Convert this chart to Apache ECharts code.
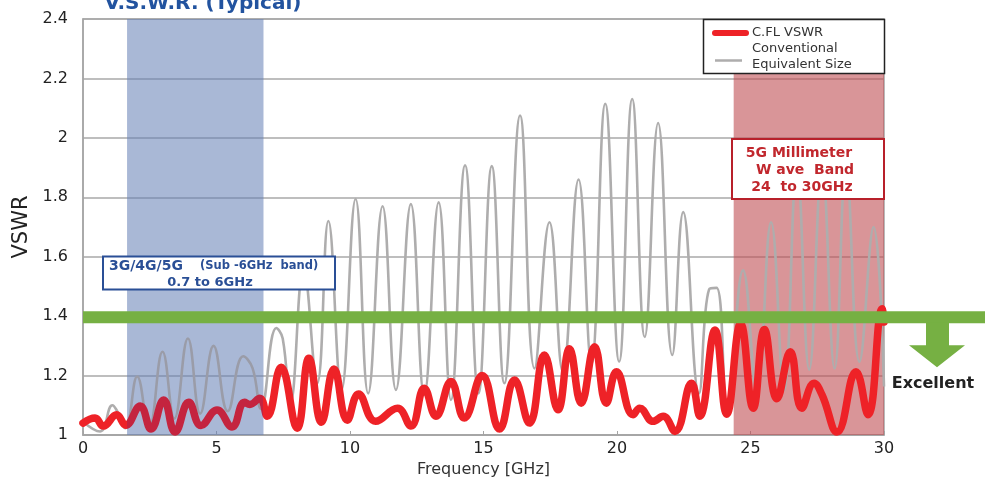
<!DOCTYPE html>
<html><head><meta charset="utf-8">
<script src="https://cdn.jsdelivr.net/npm/echarts@6/dist/echarts.min.js"></script>
<style>html,body{margin:0;padding:0;background:#fff}#c{width:992px;height:483px}</style>
</head><body><div id="c"></div>
<script>
// ---- data ----
const cflFreq = [0, 0.45, 0.76, 1.26, 1.6, 2.14, 2.55, 3.02, 3.45, 3.96, 4.42, 5.02, 5.58, 6.05, 6.25, 6.62, 6.9,
  7.42, 8.02, 8.46, 8.93, 9.4, 9.9, 10.32, 10.96, 11.78, 12.28, 12.78, 13.22, 13.78, 14.28, 14.95, 15.6,
  16.16, 16.72, 17.28, 17.79, 18.22, 18.66, 19.16, 19.6, 19.98, 20.6, 20.85, 21.35, 21.73, 22.17, 22.79, 23.1,
  23.67, 24.11, 24.63, 25.1, 25.52, 25.99, 26.49, 26.92, 27.38, 27.68, 28.24, 28.95, 29.4, 29.93, 30];
const cflVswr = [1.04, 1.057, 1.03, 1.068, 1.033, 1.098, 1.02, 1.118, 1.01, 1.11, 1.032, 1.084, 1.027, 1.11, 1.103, 1.124, 1.063,
  1.228, 1.023, 1.258, 1.043, 1.222, 1.05, 1.138, 1.046, 1.09, 1.03, 1.157, 1.063, 1.18, 1.057, 1.2, 1.02,
  1.185, 1.04, 1.269, 1.085, 1.29, 1.107, 1.297, 1.107, 1.213, 1.068, 1.09, 1.046, 1.063, 1.012, 1.174, 1.063,
  1.353, 1.07, 1.375, 1.09, 1.355, 1.122, 1.28, 1.09, 1.174, 1.135, 1.01, 1.213, 1.068, 1.425, 1.38];

const convFreq = [0, 0.64, 1.1, 1.25, 1.58, 2.03, 2.47, 2.98, 3.42, 3.93, 4.39, 4.89, 5.42, 6.0, 6.35, 6.66,
  7.24, 7.48, 7.76, 8.26, 8.77, 9.19, 9.68, 10.21, 10.68, 11.22, 11.72, 12.28, 12.78, 13.32, 13.78, 14.31, 14.81,
  15.31, 15.78, 16.37, 16.91, 17.47, 17.97, 18.56, 19.04, 19.56, 20.08, 20.57, 21.04, 21.54, 22.07, 22.48, 23.07,
  23.45, 23.73, 24.13, 24.72, 25.24, 25.77, 26.26, 26.74, 27.2, 27.68, 28.15, 28.58, 29.08, 29.61, 30];
const convVswr = [1.045, 1.012, 1.10, 1.085, 1.023, 1.197, 1.02, 1.28, 1.055, 1.325, 1.072, 1.30, 1.08, 1.265, 1.225, 1.088,
  1.36, 1.325, 1.105, 1.56, 1.174, 1.72, 1.152, 1.794, 1.14, 1.77, 1.152, 1.777, 1.135, 1.783, 1.118, 1.908, 1.14,
  1.905, 1.174, 2.075, 1.224, 1.716, 1.213, 1.86, 1.24, 2.115, 1.247, 2.131, 1.33, 2.05, 1.269, 1.75, 1.14,
  1.49, 1.495, 1.082, 1.554, 1.14, 1.716, 1.15, 1.9, 1.22, 1.9, 1.224, 1.9, 1.247, 1.70, 1.163];

const xTicks = [0, 5, 10, 15, 20, 25, 30];
const yTicks = [1, 1.2, 1.4, 1.6, 1.8, 2, 2.2, 2.4];
const subBand = [1.65, 6.76];      // drawn blue band (GHz)
const mmBand = [24.37, 30];        // drawn red band (GHz)
const excellentLimit = 1.4;

const seriesNames = ['C.FL VSWR', 'Conventional\nEquivalent Size'];
const titleText = 'V.S.W.R. (Typical)';

// ---- build ----
const zip = (a, b) => a.map((v, i) => [v, b[i]]);
const FONT = '"DejaVu Sans", Verdana, sans-serif';
const chart = echarts.init(document.getElementById('c'), null, {renderer: 'canvas'});

const RED = '#ee2227', RED_IN = '#c4243f', GRAY = '#aeadad', GRAY_IN = '#9a9ca8';
const bandColors = ['rgba(99,126,180,0.55)', 'rgba(192,78,83,0.6)'];
const yMin = yTicks[0], yMax = yTicks[yTicks.length - 1];

chart.setOption({
  animation: false,
  backgroundColor: '#fff',
  textStyle: {fontFamily: FONT},
  grid: {left: 83, right: 108, top: 19, bottom: 46, show: true, borderColor: '#a4a4a4', borderWidth: 1.5, containLabel: false},
  xAxis: {
    type: 'value', min: xTicks[0], max: xTicks[xTicks.length - 1], interval: 5,
    name: 'Frequency [GHz]', nameLocation: 'middle', nameGap: 27,
    nameTextStyle: {fontSize: 16, color: '#333', fontFamily: FONT},
    axisLine: {show: true, lineStyle: {color: '#a4a4a4', width: 1.5}},
    axisTick: {show: true, inside: true, length: 4, lineStyle: {color: '#a4a4a4'}},
    axisLabel: {fontSize: 16, color: '#222', margin: 6, fontFamily: FONT},
    splitLine: {show: false}
  },
  yAxis: {
    type: 'value', min: yMin, max: yMax, interval: 0.2,
    name: 'VSWR', nameLocation: 'middle', nameGap: 50, nameRotate: 90,
    nameTextStyle: {fontSize: 21, color: '#222', fontFamily: FONT},
    axisLine: {show: true, lineStyle: {color: '#a4a4a4', width: 1.5}},
    axisTick: {show: false},
    axisLabel: {fontSize: 16, color: '#222', margin: 15, fontFamily: FONT,
      formatter: v => String(Math.round(v * 10) / 10)},
    splitLine: {show: true, lineStyle: {color: '#a8a8a8', width: 1.5}}
  },
  visualMap: [
    {type: 'piecewise', show: false, dimension: 0, seriesIndex: 1,
      pieces: [{lt: subBand[0], color: RED}, {gte: subBand[0], lte: subBand[1], color: RED_IN}, {gt: subBand[1], color: RED}]},
    {type: 'piecewise', show: false, dimension: 0, seriesIndex: 2,
      pieces: [{lt: subBand[0], color: GRAY}, {gte: subBand[0], lte: subBand[1], color: GRAY_IN}, {gt: subBand[1], color: GRAY}]}
  ],
  series: [
    {type: 'custom', name: 'bands', z: 1, silent: true,
      encode: {x: [0, 1]},
      data: [[subBand[0], subBand[1], 0], [mmBand[0], mmBand[1], 1]],
      renderItem: (params, api) => {
        const a = api.coord([api.value(0), yMax]);
        const b = api.coord([api.value(1), yMin]);
        return {type: 'rect', shape: {x: a[0], y: a[1], width: b[0] - a[0], height: b[1] - a[1]},
          style: {fill: bandColors[api.value(2)]}};
      }},
    {type: 'line', name: seriesNames[0], data: zip(cflFreq, cflVswr), smooth: 0.45, showSymbol: false, z: 11,
      lineStyle: {width: 7.5, cap: 'round', join: 'round'}},
    {type: 'line', name: seriesNames[1], data: zip(convFreq, convVswr), smooth: 0.45, showSymbol: false, z: 10,
      lineStyle: {width: 2.6, join: 'round'}}
  ]
});

// ---- annotations (positions derived from the axes where they encode data) ----
const p0 = chart.convertToPixel({xAxisIndex: 0, yAxisIndex: 0}, [xTicks[0], excellentLimit]);
const gy = p0[1] + 1;
const ax = 937; // arrow centre
chart.setOption({graphic: [
  // title (cut at top like reference)
  {type: 'text', x: 203, y: 14, z: 100, style: {text: titleText, font: 'bold 20px ' + FONT, fill: '#22539f', align: 'center', verticalAlign: 'bottom'}},
  // threshold bar
  {type: 'line', z: 90, shape: {x1: p0[0], y1: gy, x2: 985, y2: gy}, style: {stroke: '#76b043', lineWidth: 12}},
  {type: 'polygon', z: 90, shape: {points: [[ax - 11, gy + 5], [ax + 12, gy + 5], [ax + 12, gy + 28], [ax + 28, gy + 28], [ax, gy + 50], [ax - 28, gy + 28], [ax - 11, gy + 28]]}, style: {fill: '#76b043'}},
  {type: 'text', x: 933, y: 384, z: 90, style: {text: 'Excellent', font: 'bold 16px ' + FONT, fill: '#222', align: 'center', verticalAlign: 'middle'}},
  // legend
  {type: 'rect', z: 95, shape: {x: 703.5, y: 19.5, width: 181, height: 54}, style: {fill: '#fff', stroke: '#222', lineWidth: 1.5}},
  {type: 'line', z: 96, shape: {x1: 715, y1: 33, x2: 746, y2: 33}, style: {stroke: RED, lineWidth: 6, lineCap: 'round'}},
  {type: 'text', x: 752, y: 33, z: 96, style: {text: seriesNames[0], font: '13px ' + FONT, fill: '#333', verticalAlign: 'middle'}},
  {type: 'line', z: 96, shape: {x1: 715, y1: 60.5, x2: 742, y2: 60.5}, style: {stroke: GRAY, lineWidth: 2.5}},
  {type: 'text', x: 752, y: 49, z: 96, style: {text: 'Conventional', font: '13px ' + FONT, fill: '#333', verticalAlign: 'middle'}},
  {type: 'text', x: 752, y: 64.5, z: 96, style: {text: 'Equivalent Size', font: '13px ' + FONT, fill: '#333', verticalAlign: 'middle'}},
  // mmWave box
  {type: 'rect', z: 95, shape: {x: 732, y: 139, width: 152, height: 60}, style: {fill: '#fff', stroke: '#b8202a', lineWidth: 2}},
  {type: 'text', x: 799, y: 153.5, z: 96, style: {text: '5G Millimeter', font: 'bold 14px ' + FONT, fill: '#c1272d', align: 'center', verticalAlign: 'middle'}},
  {type: 'text', x: 805, y: 170.5, z: 96, style: {text: 'W ave  Band', font: 'bold 14px ' + FONT, fill: '#c1272d', align: 'center', verticalAlign: 'middle'}},
  {type: 'text', x: 802, y: 187, z: 96, style: {text: '24  to 30GHz', font: 'bold 14px ' + FONT, fill: '#c1272d', align: 'center', verticalAlign: 'middle'}},
  // sub-6 box
  {type: 'rect', z: 95, shape: {x: 103, y: 256.5, width: 232, height: 33}, style: {fill: '#fff', stroke: '#2a4f96', lineWidth: 2}},
  {type: 'text', x: 109, y: 266, z: 96, style: {text: '3G/4G/5G', font: 'bold 14px ' + FONT, fill: '#2a4f96', verticalAlign: 'middle'}},
  {type: 'text', x: 200, y: 266, z: 96, style: {text: '(Sub -6GHz  band)', font: 'bold 11.5px ' + FONT, fill: '#2a4f96', verticalAlign: 'middle'}},
  {type: 'text', x: 210, y: 282.5, z: 96, style: {text: '0.7 to 6GHz', font: 'bold 13px ' + FONT, fill: '#2a4f96', align: 'center', verticalAlign: 'middle'}}
]});
</script>
</body></html>
